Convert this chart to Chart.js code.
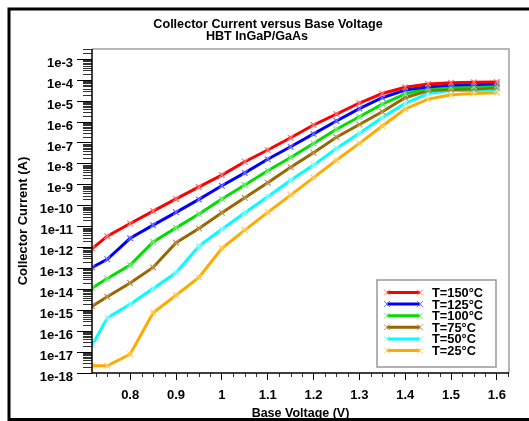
<!DOCTYPE html>
<html>
<head>
<meta charset="utf-8">
<script src="https://cdn.jsdelivr.net/npm/chart.js@4"></script>
<style>
  html, body { margin: 0; padding: 0; background: #fff; }
  #wrap { width: 529px; height: 421px; }
</style>
</head>
<body>
<div id="wrap"><canvas id="myChart" width="529" height="421"></canvas></div>
<script>
const voltages = [0.717, 0.75, 0.8, 0.85, 0.9, 0.95, 1.0, 1.05, 1.1, 1.15, 1.2, 1.25, 1.3, 1.35, 1.4, 1.45, 1.5, 1.55, 1.6];

const t150 = [8.9e-13, 3.5e-12, 1.4e-11, 5.5e-11, 2.1e-10, 7.9e-10, 2.9e-9, 1.26e-8, 4.6e-8, 1.78e-7, 7.2e-7, 2.4e-6, 8.1e-6, 2.3e-5, 4.6e-5, 6.6e-5, 7.6e-5, 7.9e-5, 8.1e-5];
const t125 = [1.12e-13, 2.75e-13, 2.75e-12, 1.17e-11, 4.8e-11, 2.0e-10, 8.9e-10, 3.7e-9, 1.66e-8, 6.6e-8, 2.7e-7, 1.12e-6, 4.4e-6, 1.45e-5, 3.4e-5, 4.9e-5, 5.9e-5, 6.3e-5, 6.8e-5];
const t100 = [1.17e-14, 3.3e-14, 1.45e-13, 1.86e-12, 8.7e-12, 4.0e-11, 2.1e-10, 9.8e-10, 4.7e-9, 2.0e-8, 9.5e-8, 4.5e-7, 1.78e-6, 7.1e-6, 2.2e-5, 4.1e-5, 4.6e-5, 4.9e-5, 5.5e-5];
const t75 = [1.58e-15, 4.4e-15, 2.0e-14, 1.12e-13, 1.7e-12, 8.1e-12, 4.6e-11, 2.4e-10, 1.26e-9, 6.8e-9, 3.4e-8, 1.86e-7, 7.6e-7, 3.1e-6, 1.45e-5, 3.2e-5, 3.6e-5, 3.8e-5, 4.4e-5];
const t50 = [2.1e-17, 4.4e-16, 1.95e-15, 1.1e-14, 6.2e-14, 1.17e-12, 7.4e-12, 4.6e-11, 2.7e-10, 1.66e-9, 8.7e-9, 5.5e-8, 2.9e-7, 1.66e-6, 7.8e-6, 2.3e-5, 3.2e-5, 3.2e-5, 3.4e-5];
const t25 = [2.2e-18, 2.2e-18, 7.9e-18, 7.6e-16, 5.2e-15, 3.7e-14, 9.1e-13, 6.8e-12, 4.8e-11, 3.2e-10, 2.2e-9, 1.5e-8, 9.5e-8, 6.5e-7, 4.2e-6, 1.23e-5, 2.0e-5, 2.3e-5, 2.5e-5];

const seriesLabels = ["T=150°C", "T=125°C", "T=100°C", "T=75°C", "T=50°C", "T=25°C"];
const seriesColors = ["#ff0000", "#0000ff", "#00dd00", "#996600", "#00ffff", "#ffaa00"];
const markerColors = ["#ff7070", "#6a6aff", "#70ee70", "#c09050", "#90ffff", "#ffcc60"];
const seriesValues = [t150, t125, t100, t75, t50, t25];

const xTicks = [0.8, 0.9, 1, 1.1, 1.2, 1.3, 1.4, 1.5, 1.6];
const yTicks = [1e-18, 1e-17, 1e-16, 1e-15, 1e-14, 1e-13, 1e-12, 1e-11, 1e-10, 1e-9, 1e-8, 1e-7, 1e-6, 1e-5, 1e-4, 1e-3];

const FONT = "'Liberation Sans', Arial, sans-serif";

const datasets = seriesValues.map((vals, i) => ({
  label: seriesLabels[i],
  data: vals.map((v, j) => ({ x: voltages[j], y: v })),
  borderColor: seriesColors[i],
  backgroundColor: seriesColors[i],
  borderWidth: 3,
  pointStyle: "crossRot",
  pointRadius: 4,
  pointBorderWidth: 1.2,
  pointBorderColor: markerColors[i],
  tension: 0,
}));

const decor = {
  id: "decor",
  beforeDraw(chart) {
    const c = chart.ctx;
    c.save();
    c.fillStyle = "#fff";
    c.fillRect(0, 0, chart.width, chart.height);
    c.restore();
  },
  afterDraw(chart) {
    const c = chart.ctx;
    const a = chart.chartArea;
    const xs = chart.scales.x, ys = chart.scales.y;
    c.save();

    // plot frame (top/right grey)
    c.strokeStyle = "#a0a0a0";
    c.lineWidth = 1.5;
    c.beginPath();
    c.moveTo(a.left, a.top); c.lineTo(a.right, a.top); c.lineTo(a.right, a.bottom);
    c.stroke();

    // minor ticks on y (log)
    c.strokeStyle = "#333";
    c.lineWidth = 1;
    for (let d = -18; d <= -3; d++) {
      for (let m = 2; m <= 9; m++) {
        const v = m * Math.pow(10, d);
        if (v > ys.max) continue;
        const py = Math.round(ys.getPixelForValue(v)) + 0.5;
        c.beginPath(); c.moveTo(a.left - 9, py); c.lineTo(a.left, py); c.stroke();
      }
    }
    // minor ticks on x
    for (let k = 29; k <= 65; k++) {
      const v = k * 0.025;
      if (k % 4 === 0) continue;
      if (v < xs.min || v > xs.max) continue;
      const px = Math.round(xs.getPixelForValue(v)) + 0.5;
      c.beginPath(); c.moveTo(px, a.bottom); c.lineTo(px, a.bottom + 4); c.stroke();
    }

    // axis lines
    c.strokeStyle = "#000";
    c.lineWidth = 1.5;
    c.beginPath();
    c.moveTo(a.left, a.top); c.lineTo(a.left, a.bottom); c.lineTo(a.right, a.bottom);
    c.stroke();

    // outer black frame
    c.lineWidth = 3;
    c.beginPath();
    c.moveTo(chart.width, 9); c.lineTo(9, 9); c.lineTo(9, 419.5); c.lineTo(chart.width, 419.5);
    c.stroke();

    // titles
    c.fillStyle = "#000";
    c.font = "bold 12.6px " + FONT;
    c.textAlign = "center";
    c.textBaseline = "middle";
    c.fillText("Collector Current versus Base Voltage", 268, 25);
    c.fillText("HBT InGaP/GaAs", 257, 37);

    // y axis title
    c.save();
    c.font = "bold 13px " + FONT;
    c.translate(23, 221);
    c.rotate(-Math.PI / 2);
    c.fillText("Collector Current (A)", 0, 0);
    c.restore();

    // legend box
    const lx = 377, ly = 280, lw = 119, lh = 87;
    c.fillStyle = "#fff";
    c.fillRect(lx, ly, lw, lh);
    c.strokeStyle = "#999";
    c.lineWidth = 1.5;
    c.strokeRect(lx, ly, lw, lh);
    c.textAlign = "left";
    c.font = "bold 12.8px " + FONT;
    chart.data.datasets.forEach((ds, i) => {
      const yy = ly + 12.5 + i * 11.6;
      c.strokeStyle = ds.borderColor;
      c.lineWidth = 3;
      c.beginPath(); c.moveTo(lx + 10, yy); c.lineTo(lx + 43, yy); c.stroke();
      c.strokeStyle = ds.pointBorderColor;
      c.lineWidth = 1;
      [lx + 10, lx + 43].forEach(px => {
        c.beginPath();
        c.moveTo(px - 3, yy - 3); c.lineTo(px + 3, yy + 3);
        c.moveTo(px - 3, yy + 3); c.lineTo(px + 3, yy - 3);
        c.stroke();
      });
      c.fillStyle = "#000";
      c.fillText(ds.label, lx + 55, yy + 1);
    });
    c.restore();
  },
};

const ctx = document.getElementById("myChart");

new Chart(ctx, {
  type: "line",
  data: { datasets },
  options: {
    responsive: false,
    animation: false,
    devicePixelRatio: 1,
    layout: { padding: { left: 0, top: 49, right: 20, bottom: 0 } },
    plugins: {
      legend: { display: false },
      tooltip: { enabled: false },
      title: { display: false },
    },
    scales: {
      x: {
        type: "linear",
        min: 0.7167,
        max: 1.6265,
        afterBuildTicks: (s) => { s.ticks = xTicks.map(v => ({ value: v })); },
        afterFit: (s) => { s.height = 48; },
        border: { display: false },
        grid: { drawOnChartArea: false, tickLength: 7, tickColor: "#000", tickWidth: 1 },
        ticks: {
          color: "#000",
          padding: 8,
          maxRotation: 0,
          autoSkip: false,
          font: { family: FONT, size: 13, weight: "bold" },
          callback: (v) => String(v),
        },
        title: {
          display: true,
          text: "Base Voltage (V)",
          color: "#000",
          padding: { top: -4, bottom: 0 },
          font: { family: FONT, size: 12.5, weight: "bold" },
        },
      },
      y: {
        type: "logarithmic",
        min: 1e-18,
        max: 3.1e-3,
        afterBuildTicks: (s) => { s.ticks = yTicks.map(v => ({ value: v })); },
        afterFit: (s) => { s.width = 92; },
        border: { display: false },
        grid: { drawOnChartArea: false, tickLength: 15, tickColor: "#000", tickWidth: 1 },
        ticks: {
          color: "#000",
          padding: 4,
          labelOffset: 4,
          autoSkip: false,
          font: { family: FONT, size: 13, weight: "bold" },
          callback: (v) => "1e" + Math.round(Math.log10(v)),
        },
        title: { display: false },
      },
    },
  },
  plugins: [decor],
});
</script>
</body>
</html>
